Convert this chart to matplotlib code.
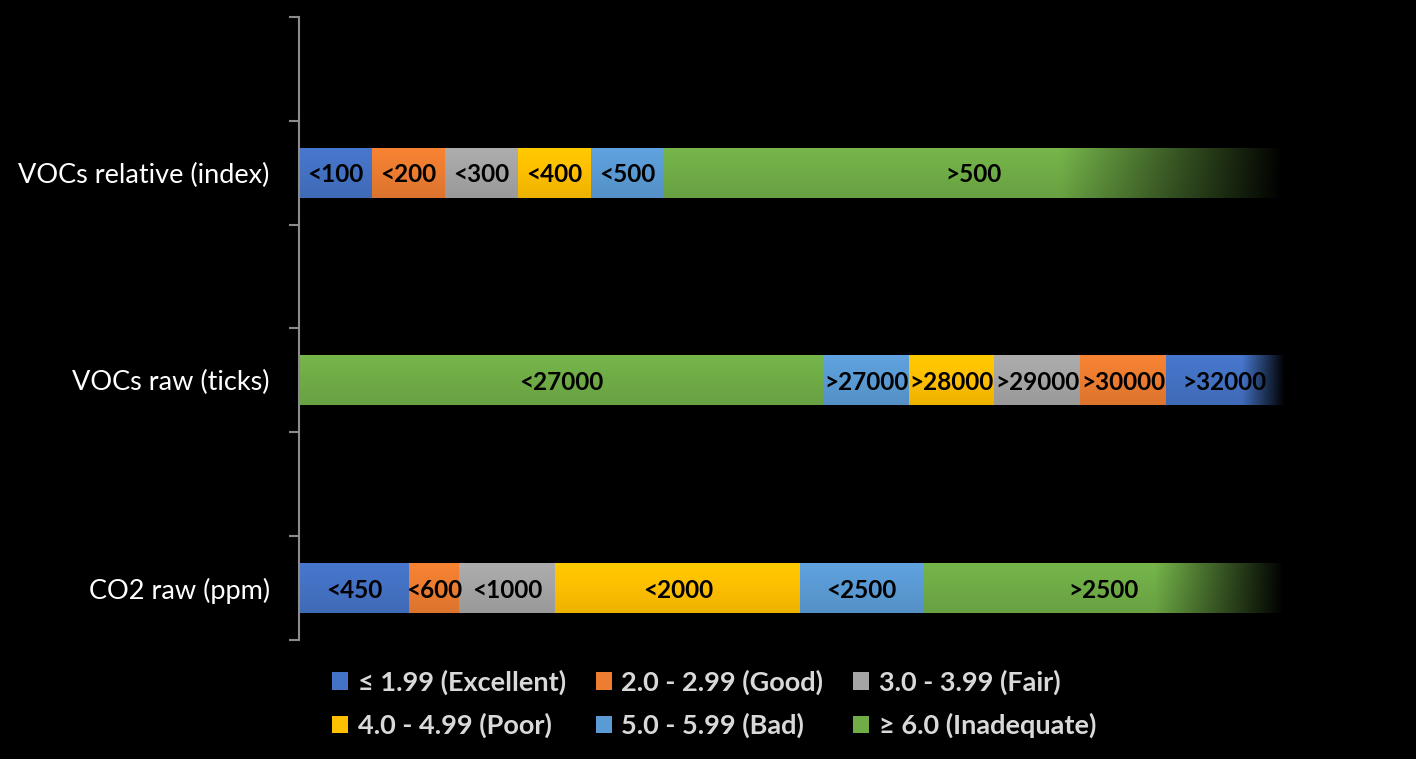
import matplotlib
matplotlib.use('Agg')
import matplotlib.pyplot as plt
import matplotlib.colors as mcolors
from matplotlib.patches import Patch
import numpy as np

plt.rcParams['font.family'] = ['Lato', 'DejaVu Sans']

# rows from bottom to top
categories = ['CO2 raw (ppm)', 'VOCs raw (ticks)', 'VOCs relative (index)']

# segment widths in % of the full bar length
co2_widths = [11.2, 5.0, 9.8, 24.9, 12.4, 36.7]
co2_labels = ['<450', '<600', '<1000', '<2000', '<2500', '>2500']
co2_levels = [0, 1, 2, 3, 4, 5]

voc_raw_widths = [53.3, 8.6, 8.7, 8.7, 8.7, 12.0]
voc_raw_labels = ['<27000', '>27000', '>28000', '>29000', '>30000', '>32000']
voc_raw_levels = [5, 4, 3, 2, 1, 0]

voc_rel_widths = [7.4, 7.4, 7.4, 7.4, 7.4, 63.0]
voc_rel_labels = ['<100', '<200', '<300', '<400', '<500', '>500']
voc_rel_levels = [0, 1, 2, 3, 4, 5]

level_names = ['≤ 1.99 (Excellent)', '2.0 - 2.99 (Good)', '3.0 - 3.99 (Fair)',
               '4.0 - 4.99 (Poor)', '5.0 - 5.99 (Bad)', '≥ 6.0 (Inadequate)']
level_colors = ['#4472C4', '#ED7D31', '#A5A5A5', '#FFC000', '#5B9BD5', '#70AD47']

rows = [(co2_widths, co2_labels, co2_levels),
        (voc_raw_widths, voc_raw_labels, voc_raw_levels),
        (voc_rel_widths, voc_rel_labels, voc_rel_levels)]


def shade(ax, rect, color, fade=False):
    # paint a gradient over a bar rectangle (office style fill)
    x0, y0 = rect.get_x(), rect.get_y()
    w, h = rect.get_width(), rect.get_height()
    rgb = np.array(mcolors.to_rgb(color))
    ny, nx = 40, 200
    yy = np.linspace(0, 1, ny)[:, None]          # 0 bottom -> 1 top
    vert = 0.93 + 0.12 * yy                     # slightly lighter on top
    img = np.clip(rgb[None, None, :] * vert[:, :, None], 0, 1)
    img = np.repeat(img, nx, axis=1)
    if fade:
        xx = np.linspace(0, 1, nx)
        f = np.clip((1.0 - xx) / (1.0 - 0.64), 0, 1)
        img = img * f[None, :, None]
    ax.imshow(img, extent=(x0, x0 + w, y0, y0 + h), origin='lower',
              aspect='auto', interpolation='bilinear', zorder=2)
    rect.set_facecolor('none')


fig = plt.figure(figsize=(14.16, 7.59), dpi=100, facecolor='black')
ax = fig.add_axes([299 / 1416, 1 - 640 / 759, 985 / 1416, 623 / 759])
ax.set_facecolor('black')

ypos = [0, 2, 4]
for y, (widths, labels, levels) in zip(ypos, rows):
    left = 0
    for i, (w, lab, lev) in enumerate(zip(widths, labels, levels)):
        bars = ax.barh(y, w, left=left, height=0.48, color=level_colors[lev],
                       lw=0, zorder=1)
        shade(ax, bars.patches[0], level_colors[lev], fade=(i == len(widths) - 1))
        ax.text(left + w / 2, y - 0.02, lab, ha='center', va='center', fontsize=17.5,
                fontweight='bold', color='black', zorder=3)
        left += w

ax.set_xlim(0, 100)
ax.set_ylim(-0.5, 5.5)

# frame
for side in ['top', 'right', 'bottom']:
    ax.spines[side].set_visible(False)
ax.spines['left'].set_color('#8c8c8c')
ax.spines['left'].set_linewidth(1.5)
ax.set_xticks([])

ax.set_yticks(np.arange(-0.5, 6, 1))
ax.set_yticklabels([])
ax.tick_params(axis='y', which='major', color='#8c8c8c', width=1.5, length=7)
ax.set_yticks(ypos, minor=True)
ax.set_yticklabels(categories, minor=True)
ax.tick_params(axis='y', which='minor', length=0, pad=21, labelsize=19.5,
               labelcolor='white')

# legend, row-major order like the original
order = [0, 3, 1, 4, 2, 5]
handles = [Patch(facecolor=level_colors[k], label=level_names[k]) for k in order]
leg = fig.legend(handles=handles, ncol=3, loc='upper center',
                 bbox_to_anchor=(714 / 1416, 1 - 645 / 759), frameon=False,
                 handlelength=0.6, handleheight=0.6, handletextpad=0.35,
                 columnspacing=1.1, labelspacing=0.68,
                 prop={'size': 19.5, 'weight': 'bold'})
for t in leg.get_texts():
    t.set_color('#d9d9d9')

fig.savefig('out.png', dpi=100, facecolor='black')
